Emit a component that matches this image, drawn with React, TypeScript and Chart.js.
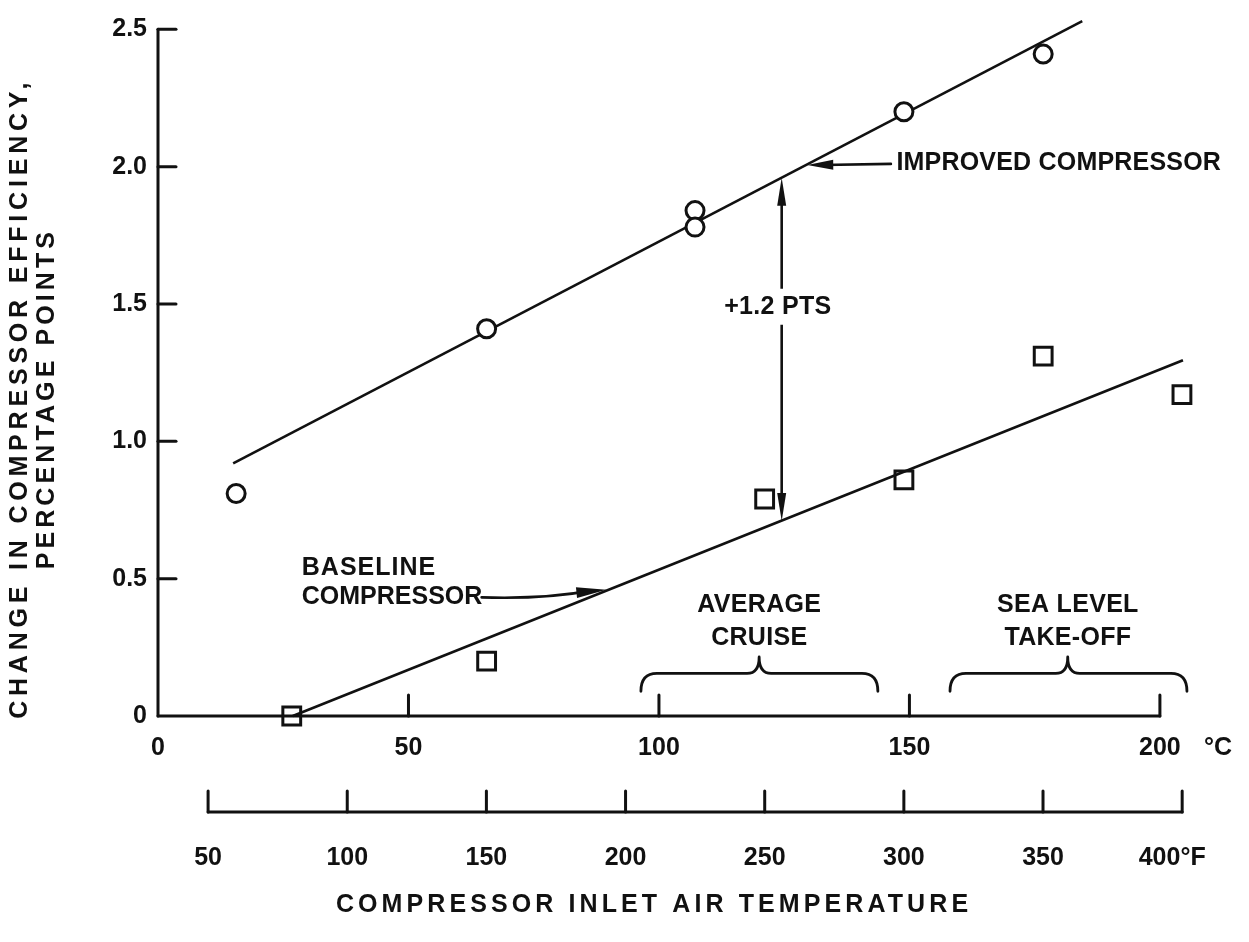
import React, { useEffect, useRef } from "react";
import { Chart, registerables } from "chart.js";

Chart.register(...registerables);

// ---- data (°C, percentage points) ----
const improvedTempC = [15.6, 65.6, 107.2, 107.2, 148.9, 176.7];
const improvedDelta = [0.81, 1.41, 1.84, 1.78, 2.2, 2.41];
const baselineTempC = [26.7, 65.6, 121.1, 148.9, 176.7, 204.4];
const baselineDelta = [0.0, 0.2, 0.79, 0.86, 1.31, 1.17];

const improvedFitC = [15, 184.5];
const improvedFitY = [0.92, 2.53];
const baselineFitC = [26.9, 204.6];
const baselineFitY = [0.0, 1.295];

// ---- axes ----
const yTicks = [0, 0.5, 1.0, 1.5, 2.0, 2.5];
const yTickLabels = ["0", "0.5", "1.0", "1.5", "2.0", "2.5"];
const cTicks = [0, 50, 100, 150, 200];
const cTickLabels = ["0", "50", "100", "150", "200"];
const fTicks = [50, 100, 150, 200, 250, 300, 350, 400];
const fTickLabels = ["50", "100", "150", "200", "250", "300", "350", "400°F"];

const yTitle = ["CHANGE IN COMPRESSOR EFFICIENCY,", "PERCENTAGE POINTS"];
const xTitle = "COMPRESSOR INLET AIR TEMPERATURE";

// ---- annotations (data coordinates) ----
const gapArrowC = 124.5;
const gapArrowY = [0.71, 1.96];
const gapLabel = "+1.2 PTS";
const gapLabelY = 1.49;

const improvedLabel = "IMPROVED COMPRESSOR";
const improvedArrowFrom = [146.3, 2.01];
const improvedArrowTo = [129.6, 2.006];
const improvedLabelAt = [147.4, 2.012];

const baselineLabel = ["BASELINE", "COMPRESSOR"];
const baselineLabelAt = [28.7, 0.54, 0.432];
const baselineArrowFrom = [64.6, 0.432];
const baselineArrowTo = [89.5, 0.46];

const cruiseLabel = ["AVERAGE", "CRUISE"];
const cruiseBrace = [96.4, 120, 143.7];
const takeoffLabel = ["SEA LEVEL", "TAKE-OFF"];
const takeoffBrace = [158.1, 181.6, 205.4];
const braceLevels = [0.09, 0.155, 0.215]; // end, line, tip
const rangeLabelY = [0.405, 0.285];

const INK = "#111111";
const FONT = 'bold 25px "Liberation Sans", Arial, sans-serif';

function drawText(ctx: CanvasRenderingContext2D, s: string, x: number, y: number, align: CanvasTextAlign, ls = 0) {
  ctx.save();
  (ctx as any).letterSpacing = ls + "px";
  ctx.font = FONT;
  ctx.fillStyle = INK;
  ctx.textAlign = align;
  ctx.textBaseline = "middle";
  let dx = 0;
  if (align === "center" && ls) dx = ls / 2;
  ctx.fillText(s, x + dx, y);
  ctx.restore();
}

function line(ctx: CanvasRenderingContext2D, x1: number, y1: number, x2: number, y2: number) {
  ctx.beginPath();
  ctx.moveTo(x1, y1);
  ctx.lineTo(x2, y2);
  ctx.stroke();
}

function arrowHead(ctx: CanvasRenderingContext2D, tx: number, ty: number, fx: number, fy: number, len: number, hw: number) {
  const a = Math.atan2(ty - fy, tx - fx);
  const bx = tx - Math.cos(a) * len;
  const by = ty - Math.sin(a) * len;
  ctx.beginPath();
  ctx.moveTo(tx, ty);
  ctx.lineTo(bx + Math.sin(a) * hw, by - Math.cos(a) * hw);
  ctx.lineTo(bx - Math.sin(a) * hw, by + Math.cos(a) * hw);
  ctx.closePath();
  ctx.fill();
}

function brace(ctx: CanvasRenderingContext2D, xl: number, xt: number, xr: number, yEnd: number, yLine: number, yTip: number) {
  const r = 16;
  ctx.beginPath();
  ctx.moveTo(xl, yEnd);
  ctx.quadraticCurveTo(xl, yLine, xl + r, yLine);
  ctx.lineTo(xt - 12, yLine);
  ctx.quadraticCurveTo(xt, yLine, xt, yTip);
  ctx.quadraticCurveTo(xt, yLine, xt + 12, yLine);
  ctx.lineTo(xr - r, yLine);
  ctx.quadraticCurveTo(xr, yLine, xr, yEnd);
  ctx.stroke();
}

const decorPlugin = {
  id: "decor",
  afterDatasetsDraw(chart: any) {
    const ctx: CanvasRenderingContext2D = chart.ctx;
    const xs = chart.scales.x;
    const ys = chart.scales.y;
    const xf = chart.scales.xF;
    const X = (v: number) => xs.getPixelForValue(v);
    const Y = (v: number) => ys.getPixelForValue(v);
    ctx.save();
    ctx.strokeStyle = INK;
    ctx.fillStyle = INK;
    ctx.lineWidth = 3;
    ctx.lineCap = "round";
    ctx.lineJoin = "round";

    const x0 = X(0);
    const y0 = Y(0);
    // y axis
    line(ctx, x0, y0, x0, Y(2.5));
    yTicks.forEach((v, i) => {
      const y = Y(v);
      if (v > 0) line(ctx, x0, y, x0 + 18, y);
      drawText(ctx, yTickLabels[i], x0 - 11, y, "right");
    });
    // °C axis
    line(ctx, x0, y0, X(200), y0);
    cTicks.forEach((v, i) => {
      const x = X(v);
      if (v > 0) line(ctx, x, y0, x, y0 - 21);
      drawText(ctx, cTickLabels[i], x, y0 + 32, "center");
    });
    drawText(ctx, "°C", X(200) + 58, y0 + 32, "center");
    // °F axis
    const yF = y0 + 96;
    line(ctx, xf.getPixelForValue(50), yF, xf.getPixelForValue(400), yF);
    fTicks.forEach((v, i) => {
      const x = xf.getPixelForValue(v);
      line(ctx, x, yF, x, yF - 21);
      const lab = fTickLabels[i];
      const off = lab.length > 3 ? -10 : 0;
      drawText(ctx, lab, x + off, yF + 46, "center");
    });
    // titles
    drawText(ctx, xTitle, 652, yF + 93, "center", 4.1);
    ctx.save();
    ctx.translate(20, (Y(0) + Y(2.5)) / 2 + 28);
    ctx.rotate(-Math.PI / 2);
    drawText(ctx, yTitle[0], 0, 0, "center", 4.8);
    drawText(ctx, yTitle[1], 0, 27, "center", 4.1);
    ctx.restore();

    // gap arrow
    ctx.lineWidth = 2.6;
    const ax = X(gapArrowC);
    const ab = Y(gapArrowY[0]);
    const at = Y(gapArrowY[1]);
    line(ctx, ax, ab - 20, ax, at + 20);
    arrowHead(ctx, ax, at, ax, ab, 28, 4.5);
    arrowHead(ctx, ax, ab, ax, at, 28, 4.5);
    const ly = Y(gapLabelY);
    ctx.fillStyle = "#ffffff";
    ctx.fillRect(ax - 58, ly - 18, 116, 36);
    ctx.fillStyle = INK;
    drawText(ctx, gapLabel, ax - 4, ly, "center", 0.3);

    // improved arrow
    const ifx = X(improvedArrowFrom[0]);
    const ify = Y(improvedArrowFrom[1]);
    const itx = X(improvedArrowTo[0]);
    const ity = Y(improvedArrowTo[1]);
    line(ctx, ifx, ify, itx + 15, ity);
    arrowHead(ctx, itx, ity, ifx, ify, 26, 5);
    drawText(ctx, improvedLabel, X(improvedLabelAt[0]), Y(improvedLabelAt[1]), "left", 0.2);

    // baseline arrow
    const bfx = X(baselineArrowFrom[0]);
    const bfy = Y(baselineArrowFrom[1]);
    const btx = X(baselineArrowTo[0]);
    const bty = Y(baselineArrowTo[1]);
    ctx.beginPath();
    ctx.moveTo(bfx, bfy);
    ctx.quadraticCurveTo((bfx + btx) / 2, bfy + 2, btx - 15, bty + 1);
    ctx.stroke();
    arrowHead(ctx, btx, bty, btx - 40, bty + 4, 30, 5.5);
    drawText(ctx, baselineLabel[0], X(baselineLabelAt[0]), Y(baselineLabelAt[1]), "left", 1.0);
    drawText(ctx, baselineLabel[1], X(baselineLabelAt[0]), Y(baselineLabelAt[2]), "left", 0);

    // braces
    ctx.lineWidth = 2.8;
    [cruiseBrace, takeoffBrace].forEach((b) => {
      brace(ctx, X(b[0]), X(b[1]), X(b[2]), Y(braceLevels[0]), Y(braceLevels[1]), Y(braceLevels[2]));
    });
    drawText(ctx, cruiseLabel[0], X(cruiseBrace[1]), Y(rangeLabelY[0]), "center", 0.3);
    drawText(ctx, cruiseLabel[1], X(cruiseBrace[1]), Y(rangeLabelY[1]), "center", 0.3);
    drawText(ctx, takeoffLabel[0], X(takeoffBrace[1]), Y(rangeLabelY[0]), "center", 0.3);
    drawText(ctx, takeoffLabel[1], X(takeoffBrace[1]), Y(rangeLabelY[1]), "center", 0.3);

    ctx.restore();
  },
};

export default function App() {
  const ref = useRef<HTMLCanvasElement | null>(null);
  useEffect(() => {
    if (!ref.current) return;
    const pts = (xs: number[], ys: number[]) => xs.map((x, i) => ({ x, y: ys[i] }));
    const chart = new Chart(ref.current, {
      type: "scatter",
      data: {
        datasets: [
          {
            label: "Improved compressor",
            data: pts(improvedTempC, improvedDelta),
            pointStyle: "circle",
            pointRadius: 9,
            borderWidth: 3,
            borderColor: INK,
            backgroundColor: "#ffffff",
            clip: false,
          } as any,
          {
            label: "Baseline compressor",
            data: pts(baselineTempC, baselineDelta),
            pointStyle: "rect",
            pointRadius: 12.6,
            borderWidth: 3,
            borderColor: INK,
            backgroundColor: "rgba(255,255,255,0)",
            clip: false,
          } as any,
          {
            label: "Improved fit",
            data: pts(improvedFitC, improvedFitY),
            showLine: true,
            pointRadius: 0,
            borderWidth: 2.6,
            borderColor: INK,
            clip: false,
          } as any,
          {
            label: "Baseline fit",
            data: pts(baselineFitC, baselineFitY),
            showLine: true,
            pointRadius: 0,
            borderWidth: 2.6,
            borderColor: INK,
            clip: false,
          } as any,
        ],
      },
      options: {
        animation: false,
        responsive: false,
        devicePixelRatio: 1,
        events: [],
        layout: { padding: { left: 158, right: 39, top: 9, bottom: 226 } },
        plugins: { legend: { display: false }, tooltip: { enabled: false } },
        scales: {
          x: { type: "linear", min: 0, max: 210, display: false },
          xF: { type: "linear", axis: "x", position: "bottom", min: 32, max: 410, display: false },
          y: { type: "linear", min: 0, max: 2.55, display: false },
        } as any,
      },
      plugins: [decorPlugin],
    });
    return () => chart.destroy();
  }, []);
  return (
    <div style={{ position: "absolute", left: 0, top: 0, width: 1249, height: 942, background: "#ffffff" }}>
      <canvas ref={ref} width={1249} height={942} style={{ width: 1249, height: 942, display: "block" }} />
    </div>
  );
}
